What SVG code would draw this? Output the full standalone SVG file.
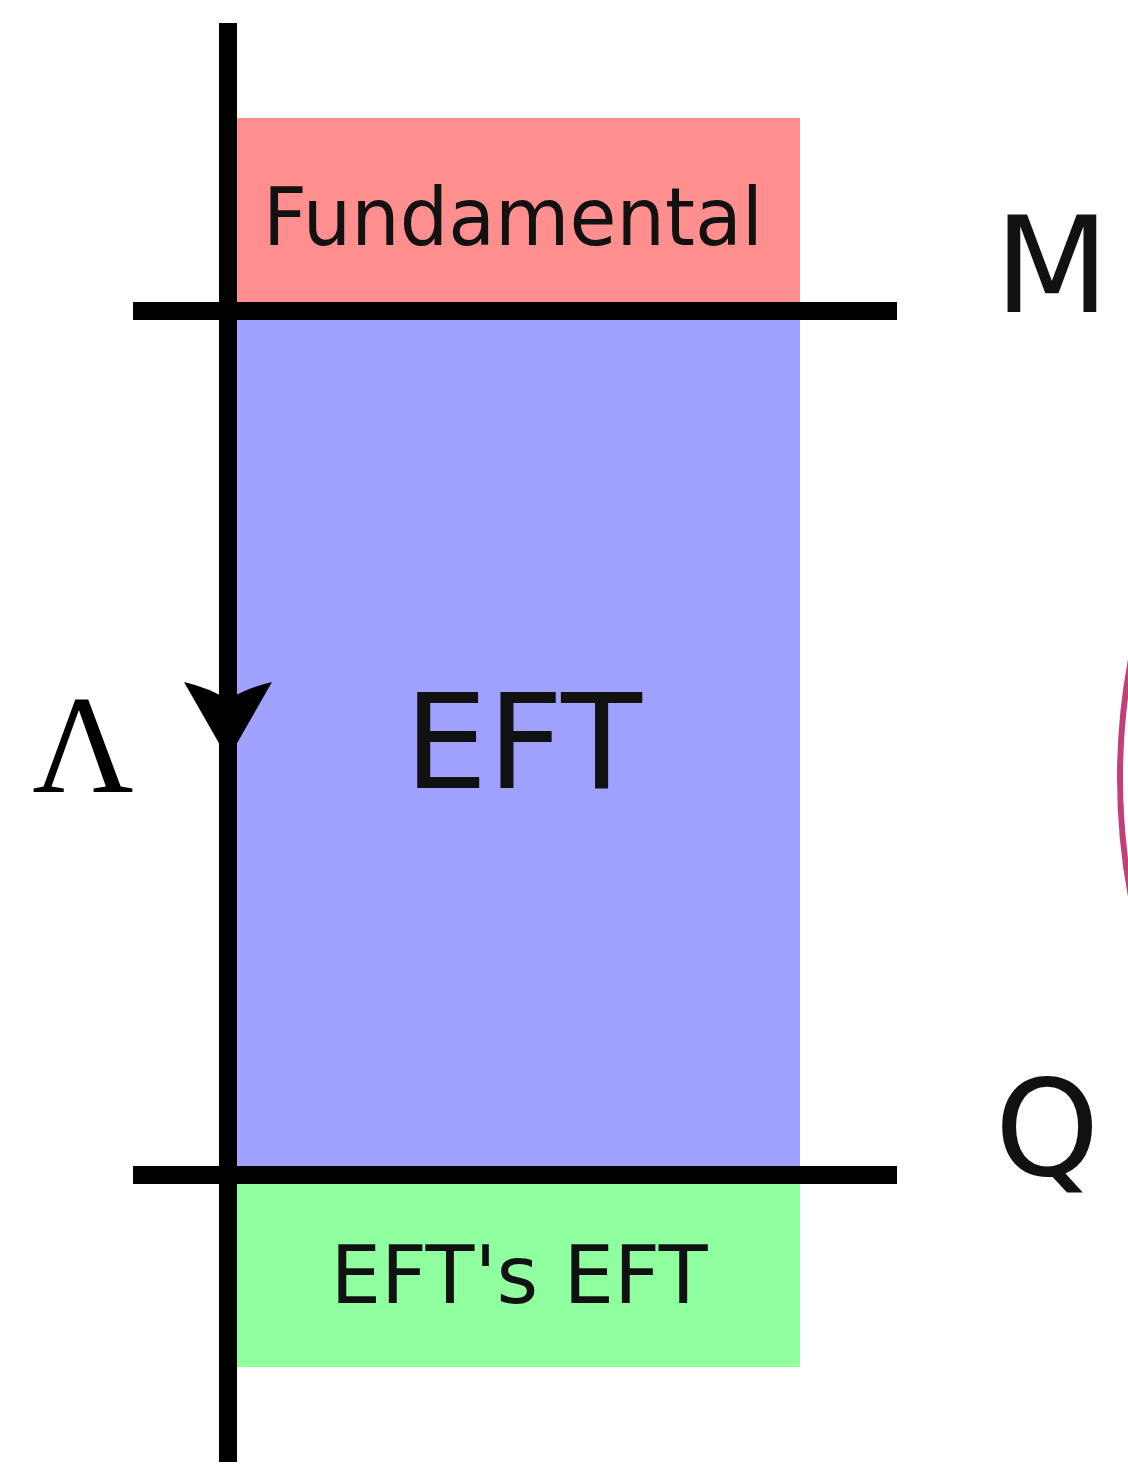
<svg xmlns="http://www.w3.org/2000/svg" width="1128" height="1473" viewBox="0 0 1128 1473">
<style>
.lbl{font-family:"DejaVu Sans","Liberation Sans",sans-serif;fill:#111;text-anchor:middle}
.axis{stroke:#000;stroke-width:18;stroke-linecap:butt;fill:none}
</style>
<rect width="1128" height="1473" fill="#fff"/>
<g id="fundamental">
<rect x="229" y="118" width="571" height="193" fill="#ff8f8f"/>
<text class="lbl" x="513" y="245" font-size="80" textLength="500" lengthAdjust="spacingAndGlyphs">Fundamental</text>
</g>
<g id="eft">
<rect x="229" y="311" width="571" height="864" fill="#a0a0ff"/>
<text class="lbl" x="523" y="788" font-size="132">EFT</text>
</g>
<g id="efts-eft">
<rect x="229" y="1175" width="571" height="192" fill="#8fff9f"/>
<text class="lbl" x="519" y="1303" font-size="80">EFT's EFT</text>
</g>
<g id="connectors">
<line class="axis" x1="228" y1="23" x2="228" y2="1462"/>
<line class="axis" x1="133" y1="311" x2="897" y2="311"/>
<line class="axis" x1="133" y1="1175" x2="897" y2="1175"/>
<path d="M184,682 Q210,688 228,700 Q246,688 272,682 L236,745 L228,756 L220,745 Z" fill="#000"/>
</g>
<g id="labels">
<text x="83" y="792" font-family="Liberation Serif,serif" font-size="140" text-anchor="middle" fill="#000">Λ</text>
<text class="lbl" x="1052" y="312" font-size="133" fill="#000">M</text>
<text class="lbl" x="1047" y="1175" font-size="133" fill="#000">Q</text>
</g>
<circle id="arc" cx="1760" cy="778" r="640" fill="none" stroke="#c0407a" stroke-width="6"/>
</svg>
